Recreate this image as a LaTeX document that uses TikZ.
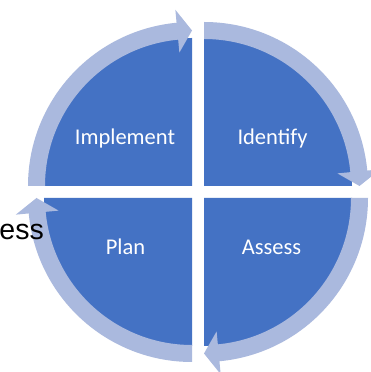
\documentclass[tikz,border=0pt]{standalone}
\usepackage{fontspec}
\setmainfont{Carlito}
\newfontfamily\arialf{Liberation Sans}
\definecolor{pieblue}{HTML}{4472C4}
\definecolor{ringblue}{RGB}{170,185,222}
\begin{document}
\begin{tikzpicture}[x=1pt,y=1pt,
  piece/.style={fill=pieblue},
  band/.style={fill=ringblue},
  lbl/.style={text=white,font=\fontsize{22.5}{26}\selectfont,inner sep=0pt,anchor=base}]
\useasboundingbox (0,0) rectangle (370,372);
\fill[white] (0,0) rectangle (370,372);
\def\hd{5.4}
% quadrants: corner x, corner y, start angle
\foreach \cx/\cy/\s in {192/186/180, 204/186/90, 204/174/0, 192/174/-90}{
  \pgfmathsetmacro{\e}{\s-90}
  \pgfmathsetmacro{\eb}{\e+\hd}
  \begin{scope}[shift={(\cx pt,\cy pt)}]
    \fill[piece] (0,0) -- (\e:148pt) arc[start angle=\e, end angle=\s, radius=148pt] -- cycle;
    \fill[band] (\s:147pt) arc[start angle=\s, end angle=\eb, radius=147pt]
      -- (\eb:134pt) -- (\e:155.5pt) -- (\eb:177pt) -- (\eb:164pt)
      arc[start angle=\eb, end angle=\s, radius=164pt] -- cycle;
  \end{scope}
}
\node[lbl] (impl) at (125,227) {Implement};
\node[lbl] (iden) at (272.5,227) {Identify};
\node[lbl] (plan) at (125.5,117) {Plan};
\node[lbl] (asse) at (271.5,117) {Assess};
\node[font=\arialf\fontsize{28.5}{32}\selectfont,inner sep=0pt,anchor=base east] (ess) at (44,132) {ess};
\end{tikzpicture}
\end{document}
